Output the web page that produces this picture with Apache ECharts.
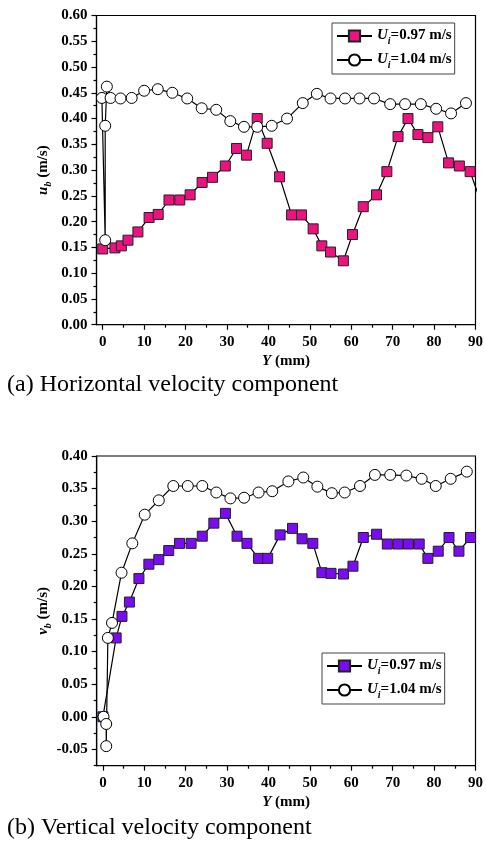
<!DOCTYPE html>
<html>
<head>
<meta charset="utf-8">
<script src="https://cdn.jsdelivr.net/npm/echarts@6/dist/echarts.min.js"></script>
<style>
  html, body { margin: 0; padding: 0; background: #fff; }
  #chart { width: 486px; height: 842px; }
</style>
</head>
<body>
<div id="chart"></div>
<script>
// Horizontal velocity u_b vs Y (mm)
const uY_097 = [0, 2.95, 4.5, 6.1, 8.5, 11.2, 13.4, 16, 18.6, 21.1, 24, 26.5, 29.6, 32.3, 34.7, 37.3, 39.7, 42.7, 45.6, 48, 50.8, 52.9, 55, 58.1, 60.3, 62.9, 66.1, 68.6, 71.3, 73.7, 76.1, 78.5, 80.9, 83.5, 86.1, 88.7, 91.2];
const uV_097 = [0.147, 0.149, 0.153, 0.164, 0.180, 0.208, 0.214, 0.242, 0.242, 0.252, 0.276, 0.286, 0.308, 0.342, 0.329, 0.400, 0.352, 0.287, 0.213, 0.213, 0.186, 0.153, 0.141, 0.124, 0.175, 0.229, 0.252, 0.297, 0.365, 0.400, 0.369, 0.363, 0.384, 0.314, 0.308, 0.297, 0.240];
const uY_104 = [-0.2, 0.6, 0.6, 1.0, 1.9, 4.3, 7, 10, 13.3, 16.8, 20.4, 23.9, 27.4, 30.8, 34.1, 37.3, 40.8, 44.5, 48.3, 51.7, 55, 58.5, 62, 65.5, 69.4, 73, 76.8, 80.5, 84.1, 87.7];
const uV_104 = [0.440, 0.164, 0.386, 0.462, 0.440, 0.439, 0.440, 0.454, 0.457, 0.450, 0.439, 0.420, 0.417, 0.395, 0.384, 0.384, 0.386, 0.400, 0.430, 0.448, 0.439, 0.439, 0.439, 0.439, 0.428, 0.428, 0.428, 0.419, 0.410, 0.430];

// Vertical velocity v_b vs Y (mm)
const vY_097 = [0, 3.2, 4.6, 6.4, 8.7, 11.1, 13.5, 15.9, 18.5, 21.3, 24, 26.8, 29.6, 32.4, 34.8, 37.6, 39.8, 42.8, 45.8, 48.1, 50.7, 52.9, 55.1, 58.1, 60.4, 62.9, 66.1, 68.7, 71.3, 73.8, 76.4, 78.5, 81, 83.6, 86, 88.8];
const vV_097 = [0.0, 0.121, 0.154, 0.176, 0.212, 0.234, 0.241, 0.255, 0.266, 0.266, 0.277, 0.297, 0.312, 0.277, 0.266, 0.243, 0.243, 0.279, 0.289, 0.273, 0.266, 0.221, 0.220, 0.219, 0.231, 0.275, 0.280, 0.265, 0.265, 0.265, 0.265, 0.243, 0.254, 0.275, 0.254, 0.275];
const vY_104 = [0.15, 0.8, 0.8, 1.2, 2.2, 4.5, 7.1, 10.1, 13.5, 17, 20.5, 24, 27.4, 30.8, 34.1, 37.6, 40.9, 44.8, 48.4, 51.8, 55.3, 58.4, 62.1, 65.7, 69.4, 73.3, 77, 80.4, 84, 87.9];
const vV_104 = [0.0, -0.011, -0.045, 0.121, 0.144, 0.221, 0.266, 0.310, 0.332, 0.354, 0.354, 0.354, 0.344, 0.335, 0.336, 0.344, 0.346, 0.361, 0.367, 0.353, 0.343, 0.344, 0.354, 0.371, 0.371, 0.370, 0.365, 0.354, 0.365, 0.376];

// Tick positions
const xMajor = [0, 10, 20, 30, 40, 50, 60, 70, 80, 90];
const xMinor = [5, 15, 25, 35, 45, 55, 65, 75, 85];
const uMajor = [0, 0.05, 0.10, 0.15, 0.20, 0.25, 0.30, 0.35, 0.40, 0.45, 0.50, 0.55, 0.60];
const uMinor = [0.025, 0.075, 0.125, 0.175, 0.225, 0.275, 0.325, 0.375, 0.425, 0.475, 0.525, 0.575];
const vMajor = [-0.05, 0, 0.05, 0.10, 0.15, 0.20, 0.25, 0.30, 0.35, 0.40];
const vMinor = [-0.075, -0.025, 0.025, 0.075, 0.125, 0.175, 0.225, 0.275, 0.325, 0.375];

const FONT = '"Times New Roman", "Liberation Serif", serif';
const PINK = '#ec1280';
const VIOLET = '#7a0cf2';

const pair = (xs, ys) => xs.map((x, i) => [x, ys[i]]);

const rich = {
  i: { fontFamily: FONT, fontWeight: 'bold', fontStyle: 'italic', fontSize: 15, color: '#000', verticalAlign: 'top', lineHeight: 16 },
  s: { fontFamily: FONT, fontWeight: 'bold', fontStyle: 'italic', fontSize: 10, color: '#000', verticalAlign: 'top', lineHeight: 10, padding: [8, 0, 0, 0] },
  t: { fontFamily: FONT, fontWeight: 'bold', fontSize: 15, color: '#000', verticalAlign: 'top', lineHeight: 16 }
};

const legendText = {
  u097: '{i|U}{s|i}{t|=0.97 m/s}', u104: '{i|U}{s|i}{t|=1.04 m/s}',
  v097: '{i|U}{s|i}{t|=0.97 m/s}', v104: '{i|U}{s|i}{t|=1.04 m/s}'
};

function xAxes(grid) {
  return [{
    type: 'value', gridIndex: grid, min: -1.5, max: 90, position: 'bottom',
    name: '{i|Y}{t| (mm)}', nameLocation: 'middle', nameGap: 29, nameMoveOverlap: false,
    nameTextStyle: { rich },
    axisLine: { onZero: false, lineStyle: { color: '#000', width: 1.2 } },
    axisTick: { show: true, inside: false, length: 5, customValues: xMajor, lineStyle: { color: '#000', width: 1.2 } },
    axisLabel: { customValues: xMajor, margin: 10, fontFamily: FONT, fontWeight: 'bold', fontSize: 15, color: '#000' },
    splitLine: { show: false }
  }, {
    type: 'value', gridIndex: grid, min: -1.5, max: 90, position: 'bottom',
    axisLine: { show: false, onZero: false },
    axisTick: { show: true, length: 3, customValues: xMinor, lineStyle: { color: '#000', width: 1.2 } },
    axisLabel: { show: false },
    splitLine: { show: false }
  }];
}

function yAxes(grid, min, max, major, minor, title) {
  return [{
    type: 'value', gridIndex: grid, min, max, position: 'left',
    name: title, nameLocation: 'middle', nameGap: 45, nameRotate: 90, nameMoveOverlap: false,
    nameTextStyle: { rich },
    axisLine: { onZero: false, lineStyle: { color: '#000', width: 1.2 } },
    axisTick: { show: true, length: 5, customValues: major, lineStyle: { color: '#000', width: 1.2 } },
    axisLabel: { customValues: major, margin: 9, fontFamily: FONT, fontWeight: 'bold', fontSize: 15, color: '#000',
      formatter: v => v.toFixed(2) },
    splitLine: { show: false }
  }, {
    type: 'value', gridIndex: grid, min, max, position: 'left',
    axisLine: { show: false, onZero: false },
    axisTick: { show: true, length: 3, customValues: minor, lineStyle: { color: '#000', width: 1.2 } },
    axisLabel: { show: false },
    splitLine: { show: false }
  }];
}

function squareSeries(name, data, xi, yi, color) {
  return {
    name, type: 'line', xAxisIndex: xi, yAxisIndex: yi, data, clip: true,
    symbol: 'rect', symbolSize: 10, showAllSymbol: true,
    lineStyle: { color: '#000', width: 1.2 },
    itemStyle: { color, borderColor: '#222', borderWidth: 1 },
    emphasis: { disabled: true }
  };
}
function circleSeries(name, data, xi, yi) {
  return {
    name, type: 'line', xAxisIndex: xi, yAxisIndex: yi, data, clip: true,
    symbol: 'circle', symbolSize: 11, showAllSymbol: true,
    lineStyle: { color: '#000', width: 1.2 },
    itemStyle: { color: '#fff', borderColor: '#000', borderWidth: 1 },
    emphasis: { disabled: true }
  };
}

const legendBase = {
  orient: 'vertical', itemWidth: 35, itemHeight: 14, itemGap: 6,
  borderColor: '#444', borderWidth: 1, padding: [5, 3, 4, 4],
  backgroundColor: '#fff',
  formatter: n => legendText[n],
  textStyle: { rich }, selectedMode: false
};

const chart = echarts.init(document.getElementById('chart'), null, { renderer: 'canvas' });
chart.setOption({
  animation: false,
  backgroundColor: '#fff',
  title: [
    { text: '(a) Horizontal velocity component', left: 7, top: 373, padding: 0,
      textStyle: { fontFamily: FONT, fontWeight: 'normal', fontSize: 24, color: '#000' } },
    { text: '(b) Vertical velocity component', left: 7, top: 816, padding: 0,
      textStyle: { fontFamily: FONT, fontWeight: 'normal', fontSize: 24, color: '#000' } }
  ],
  grid: [
    { left: 96.5, top: 15.5, width: 381.5, height: 309.2, show: true, borderColor: '#000', borderWidth: 1.2, backgroundColor: 'transparent' },
    { left: 96.7, top: 456, width: 382, height: 309.7, show: true, borderColor: '#000', borderWidth: 1.2, backgroundColor: 'transparent' }
  ],
  legend: [
    Object.assign({}, legendBase, { data: ['u097', 'u104'], left: 332, top: 23 }),
    Object.assign({}, legendBase, { data: ['v097', 'v104'], left: 322, top: 653 })
  ],
  xAxis: [...xAxes(0), ...xAxes(1)],
  yAxis: [
    ...yAxes(0, 0, 0.6, uMajor, uMinor, '{i|u}{s|b}{t| (m/s)}'),
    ...yAxes(1, -0.075, 0.40, vMajor, vMinor, '{i|v}{s|b}{t| (m/s)}')
  ],
  series: [
    squareSeries('u097', pair(uY_097, uV_097), 0, 0, PINK),
    circleSeries('u104', pair(uY_104, uV_104), 0, 0),
    squareSeries('v097', pair(vY_097, vV_097), 2, 2, VIOLET),
    circleSeries('v104', pair(vY_104, vV_104), 2, 2)
  ]
});
</script>
</body>
</html>
